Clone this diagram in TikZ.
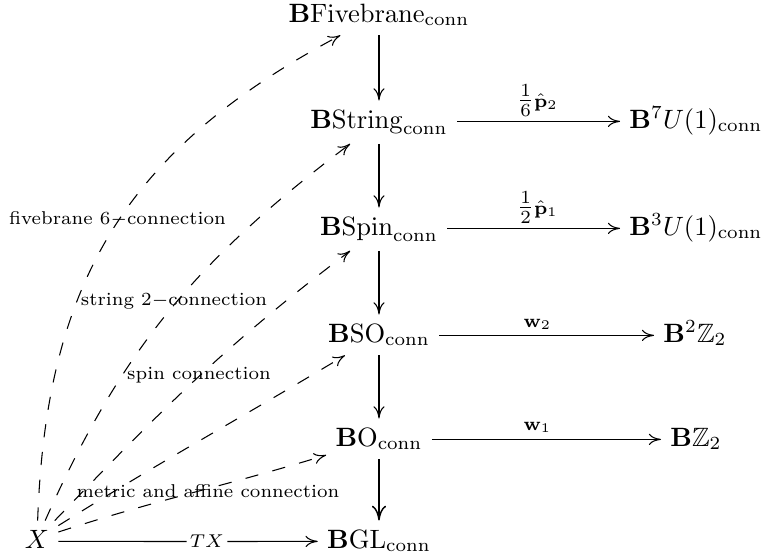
\documentclass[tikz,border=0pt]{standalone}
\usepackage{amsmath,amssymb}
\usetikzlibrary{arrows.meta}
\begin{document}
\begin{tikzpicture}[x=0.3774pt,y=-0.3774pt,
  obj/.style={anchor=base, inner sep=3.33pt},
  lab/.style={anchor=base, inner sep=0pt},
  maparrow/.style={-{Computer Modern Rightarrow[length=4.6pt,width=4.2pt]}, line width=0.4pt},
  bigarrow/.style={-{Computer Modern Rightarrow[length=5.6pt,width=5.4pt]}, line width=0.55pt},
  dasharrow/.style={maparrow, dash pattern=on 5pt off 5.5pt},
  curvelab/.style={font=\scriptsize, inner sep=0pt}]
\useasboundingbox (0,0) rectangle (778,559);

% tower of connection classifying stacks
\node[obj] (F)   at (379,22)  {$\mathbf{B}\mathrm{Fivebrane}_{\mathrm{conn}}$};
\node[obj] (Str) at (379,128) {$\mathbf{B}\mathrm{String}_{\mathrm{conn}}$};
\node[obj] (Spin) at (379,235) {$\mathbf{B}\mathrm{Spin}_{\mathrm{conn}}$};
\node[obj] (SO)  at (379,342) {$\mathbf{B}\mathrm{SO}_{\mathrm{conn}}$};
\node[obj] (O)   at (379,446) {$\mathbf{B}\mathrm{O}_{\mathrm{conn}}$};
\node[obj] (GL)  at (379,548) {$\mathbf{B}\mathrm{GL}_{\mathrm{conn}}$};
\node[obj] (X)   at (37,548)  {$X$};

% characteristic classes targets
\node[obj] (B7) at (696,128) {$\mathbf{B}^7U(1)_{\mathrm{conn}}$};
\node[obj] (B3) at (696,235) {$\mathbf{B}^3U(1)_{\mathrm{conn}}$};
\node[obj] (B2Z) at (695,342) {$\mathbf{B}^2\mathbb{Z}_2$};
\node[obj] (BZ) at (696,446) {$\mathbf{B}\mathbb{Z}_2$};

% vertical forgetful maps
\draw[maparrow] (F) -- (Str);
\draw[maparrow] (Str) -- (Spin);
\draw[maparrow] (Spin) -- (SO);
\draw[maparrow] (SO) -- (O);
\draw[bigarrow] (O) -- (GL);

% horizontal maps and their labels
\draw[maparrow] ([yshift=2.5pt]Str.base east) -- ([yshift=2.5pt]B7.base west);
\draw[maparrow] ([yshift=2.5pt]Spin.base east) -- ([yshift=2.5pt]B3.base west);
\draw[maparrow] ([yshift=2.5pt]SO.base east) -- ([yshift=2.5pt]B2Z.base west);
\draw[maparrow] ([yshift=2.5pt]O.base east) -- ([yshift=2.5pt]BZ.base west);
\node[lab] (p2) at (537.5,107) {$\tfrac{1}{6}\scriptstyle\hat{\mathbf{p}}_2$};
\node[lab] (p1) at (537.5,214) {$\tfrac{1}{2}\scriptstyle\hat{\mathbf{p}}_1$};
\node[lab] (w2) at (537.5,327) {$\scriptstyle\mathbf{w}_2$};
\node[lab] (w1) at (537.5,430) {$\scriptstyle\mathbf{w}_1$};

% tangent bundle
\node[inner sep=1pt] (TX) at (207,541.5) {$\scriptstyle TX$};
\draw ([yshift=2.5pt]X.base east) -- (TX.west);
\draw[maparrow] (TX.east) -- ([yshift=2.5pt]GL.base west);

% lifts of the tangent bundle
\draw[dasharrow] (X) to[out=88,in=208,looseness=1.08] (F);
\draw[dasharrow] (X) to[out=66,in=217] (Str);
\draw[dasharrow] (X) to[out=46,in=217] (Spin);
\draw[dasharrow] (X) to[out=32,in=211] (SO);
\draw[dasharrow] (X) to[out=18,in=197] (O);

\node[curvelab] (lf)  at (117.5,219) {fivebrane $6-$connection};
\node[curvelab] (ls)  at (174,301)   {string $2-$connection};
\node[curvelab] (lsp) at (199,375)   {spin connection};
\node[curvelab] (lm)  at (208,491)   {metric and affine connection};
\end{tikzpicture}
\end{document}
